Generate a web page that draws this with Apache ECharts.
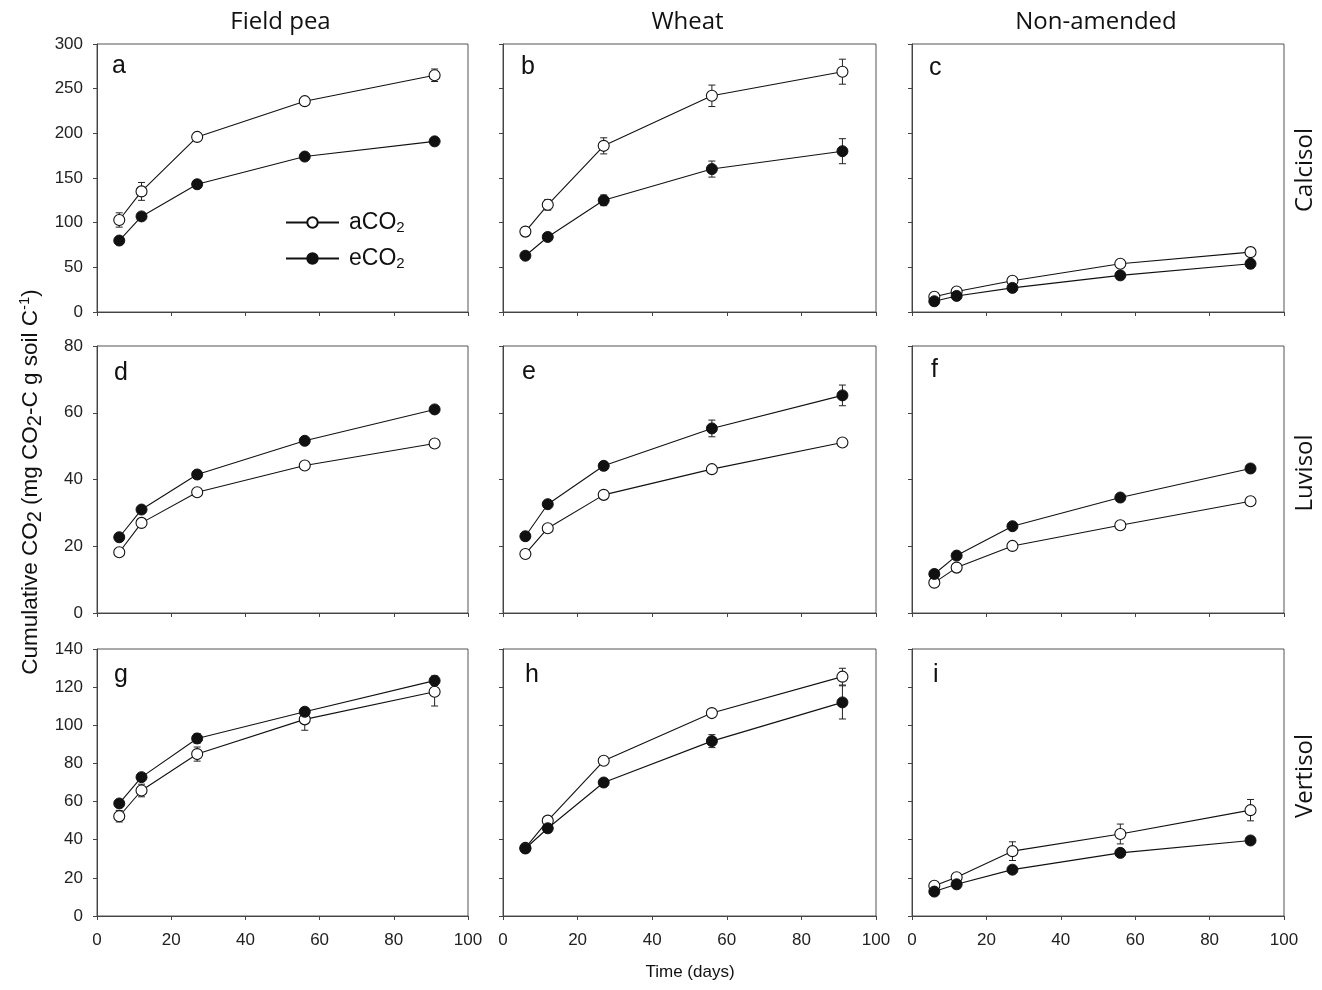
<!DOCTYPE html>
<html>
<head>
<meta charset="utf-8">
<title>Cumulative CO2</title>
<script src="https://cdn.jsdelivr.net/npm/echarts@6/dist/echarts.min.js"></script>
<style>
  html, body { margin: 0; padding: 0; background: #fff; }
  #main { width: 1322px; height: 990px; }
</style>
</head>
<body>
<div id="main"></div>
<script>
// sampling days (x values)
const days = [6, 12, 27, 56, 91];

// Calcisol
const calcPeaA = [103, 135, 196, 236, 265];
const calcPeaAErr = [8, 10, 2, 3, 7];
const calcPeaE = [80, 107, 143, 174, 191];
const calcPeaEErr = [2, 3, 3, 3, 3];
const calcWheatA = [90, 120, 186, 242, 269];
const calcWheatAErr = [2, 6, 9, 12, 14];
const calcWheatE = [63, 84, 125, 160, 180];
const calcWheatEErr = [2, 3, 6, 9, 14];
const calcNoneA = [17, 23, 35, 54, 67];
const calcNoneAErr = [1, 1, 2, 2, 3];
const calcNoneE = [12, 18, 27, 41, 54];
const calcNoneEErr = [1, 2, 4, 3, 5];

// Luvisol
const luvPeaA = [18.2, 27, 36.2, 44.2, 50.8];
const luvPeaAErr = [0.5, 0.5, 0.5, 0.5, 0.5];
const luvPeaE = [22.7, 31, 41.5, 51.6, 61];
const luvPeaEErr = [0.5, 0.5, 0.5, 0.5, 0.8];
const luvWheatA = [17.7, 25.4, 35.4, 43.1, 51.1];
const luvWheatAErr = [0.5, 0.5, 0.5, 1, 1.2];
const luvWheatE = [23, 32.6, 44.1, 55.3, 65.2];
const luvWheatEErr = [0.5, 0.5, 1.2, 2.5, 3.1];
const luvNoneA = [9.1, 13.6, 20.1, 26.3, 33.5];
const luvNoneAErr = [0.5, 0.5, 0.5, 0.5, 1.2];
const luvNoneE = [11.7, 17.2, 26, 34.6, 43.3];
const luvNoneEErr = [0.5, 0.5, 0.5, 0.5, 0.5];

// Vertisol
const vertPeaA = [52.3, 65.8, 84.9, 103.1, 117.6];
const vertPeaAErr = [3, 3.3, 3.7, 5.7, 7.5];
const vertPeaE = [59, 72.8, 93.1, 107.1, 123.4];
const vertPeaEErr = [1, 1.5, 2.5, 2, 2.5];
const vertWheatA = [35.7, 50, 81.4, 106.4, 125.5];
const vertWheatAErr = [0.5, 1, 1, 2, 4.4];
const vertWheatE = [35.4, 46, 70, 91.7, 112];
const vertWheatEErr = [0.5, 1, 1, 3.4, 8.7];
const vertNoneA = [15.9, 20.3, 34, 43, 55.5];
const vertNoneAErr = [1, 1, 4.9, 5.2, 5.6];
const vertNoneE = [12.8, 16.6, 24.3, 33.1, 39.6];
const vertNoneEErr = [0.5, 0.5, 1, 1, 1];

const colTitles = ['Field pea', 'Wheat', 'Non-amended'];
const rowTitles = ['Calcisol', 'Luvisol', 'Vertisol'];
const panelLetters = ['a', 'b', 'c', 'd', 'e', 'f', 'g', 'h', 'i'];
const rowMax = [300, 80, 140];
const rowStep = [50, 20, 20];
const xMax = 100, xStep = 20;

const panels = [
  [calcPeaA, calcPeaAErr, calcPeaE, calcPeaEErr],
  [calcWheatA, calcWheatAErr, calcWheatE, calcWheatEErr],
  [calcNoneA, calcNoneAErr, calcNoneE, calcNoneEErr],
  [luvPeaA, luvPeaAErr, luvPeaE, luvPeaEErr],
  [luvWheatA, luvWheatAErr, luvWheatE, luvWheatEErr],
  [luvNoneA, luvNoneAErr, luvNoneE, luvNoneEErr],
  [vertPeaA, vertPeaAErr, vertPeaE, vertPeaEErr],
  [vertWheatA, vertWheatAErr, vertWheatE, vertWheatEErr],
  [vertNoneA, vertNoneAErr, vertNoneE, vertNoneEErr]
];

// layout
const colLeft = [97, 503, 912];
const colWidth = [371, 373, 372];
const rowTop = [44, 346, 649];
const rowHeight = [268, 267, 267];
const letterPos = [[112, 74], [521, 75], [929, 76], [114, 381], [522, 380], [931, 378], [114, 683], [525, 683], [933, 683]];

const tickFont = "'Liberation Sans', Arial, sans-serif";
const titleFont = "'Open Sans', 'Noto Sans', sans-serif";
const ink = '#111';

var chart = echarts.init(document.getElementById('main'));

var grids = [], xAxes = [], yAxes = [], series = [], graphics = [];

function errorBars(i, vals, errs) {
  return {
    type: 'custom',
    xAxisIndex: i,
    yAxisIndex: i,
    z: 1,
    silent: true,
    encode: { x: 0, y: 1 },
    data: days.map((d, k) => [d, vals[k], errs[k]]),
    renderItem: function (params, api) {
      var x = api.value(0), y = api.value(1), e = api.value(2);
      var hi = api.coord([x, y + e]), lo = api.coord([x, y - e]);
      var w = 3.5;
      var st = { stroke: '#222', lineWidth: 1 };
      return {
        type: 'group',
        children: [
          { type: 'line', shape: { x1: hi[0], y1: hi[1], x2: lo[0], y2: lo[1] }, style: st },
          { type: 'line', shape: { x1: hi[0] - w, y1: hi[1], x2: hi[0] + w, y2: hi[1] }, style: st },
          { type: 'line', shape: { x1: lo[0] - w, y1: lo[1], x2: lo[0] + w, y2: lo[1] }, style: st }
        ]
      };
    }
  };
}

panels.forEach(function (p, i) {
  var r = Math.floor(i / 3), c = i % 3;
  grids.push({
    left: colLeft[c], top: rowTop[r], width: colWidth[c], height: rowHeight[r],
    show: true, borderColor: '#555', borderWidth: 1, backgroundColor: 'transparent'
  });
  xAxes.push({
    type: 'value', gridIndex: i, min: 0, max: xMax, interval: xStep,
    axisLine: { show: true, onZero: false, lineStyle: { color: '#444', width: 1 } },
    axisTick: { show: true, inside: false, length: 4, lineStyle: { color: '#444' } },
    axisLabel: { show: r === 2, fontSize: 17, color: '#222', margin: 16, fontFamily: tickFont },
    splitLine: { show: false }
  });
  yAxes.push({
    type: 'value', gridIndex: i, min: 0, max: rowMax[r], interval: rowStep[r],
    axisLine: { show: true, lineStyle: { color: '#444', width: 1 } },
    axisTick: { show: true, inside: false, length: 4, lineStyle: { color: '#444' } },
    axisLabel: { show: c === 0, fontSize: 17, color: '#222', margin: 14, fontFamily: tickFont },
    splitLine: { show: false }
  });
  series.push(errorBars(i, p[0], p[1]));
  series.push(errorBars(i, p[2], p[3]));
  series.push({
    name: 'aCO2', type: 'line', xAxisIndex: i, yAxisIndex: i, z: 3,
    data: days.map((d, k) => [d, p[0][k]]),
    symbol: 'circle', symbolSize: 11,
    lineStyle: { color: ink, width: 1.1 },
    itemStyle: { color: '#fff', borderColor: ink, borderWidth: 1.1 },
    emphasis: { disabled: true }
  });
  series.push({
    name: 'eCO2', type: 'line', xAxisIndex: i, yAxisIndex: i, z: 4,
    data: days.map((d, k) => [d, p[2][k]]),
    symbol: 'circle', symbolSize: 11,
    lineStyle: { color: ink, width: 1.1 },
    itemStyle: { color: ink, borderColor: ink, borderWidth: 1 },
    emphasis: { disabled: true }
  });
  graphics.push({
    type: 'text', x: letterPos[i][0], y: letterPos[i][1] + 5,
    style: { text: panelLetters[i], fill: ink, font: "25px 'Liberation Sans', Arial, sans-serif", textVerticalAlign: 'bottom' }
  });
});

// column titles
colTitles.forEach(function (t, c) {
  graphics.push({
    type: 'text', x: colLeft[c] + colWidth[c] / 2 - 2, y: 22,
    style: { text: t, fill: ink, font: "24px " + titleFont, textAlign: 'center', textVerticalAlign: 'middle' }
  });
});
// row titles
const rowTitleY = [170, 473, 776];
rowTitles.forEach(function (t, r) {
  graphics.push({
    type: 'text', x: 1305, y: rowTitleY[r], rotation: Math.PI / 2,
    style: { text: t, fill: ink, font: "24px " + titleFont, textAlign: 'center', textVerticalAlign: 'middle' }
  });
});
// x axis title
graphics.push({
  type: 'text', x: 690, y: 972,
  style: { text: 'Time (days)', fill: ink, font: "17px " + tickFont, textAlign: 'center', textVerticalAlign: 'middle' }
});
// y axis title
graphics.push({
  type: 'text', x: 31, y: 482, rotation: Math.PI / 2,
  style: {
    text: '{m|Cumulative CO}{s|2}{m| (mg CO}{s|2}{m|-C g soil C}{u|-1}{m|)}',
    fill: ink, textAlign: 'center', textVerticalAlign: 'middle',
    rich: {
      m: { fontSize: 22.5, lineHeight: 28, fontFamily: tickFont, fill: ink },
      s: { fontSize: 20, lineHeight: 22, verticalAlign: 'bottom', fontFamily: tickFont, fill: ink },
      u: { fontSize: 15, lineHeight: 15, verticalAlign: 'top', fontFamily: tickFont, fill: ink }
    }
  }
});

chart.setOption({
  animation: false,
  backgroundColor: '#fff',
  grid: grids,
  xAxis: xAxes,
  yAxis: yAxes,
  legend: {
    data: ['aCO2', 'eCO2'],
    orient: 'vertical',
    left: 285, top: 211,
    padding: 0,
    itemWidth: 53, itemHeight: 13, itemGap: 12,
    selectedMode: false,
    formatter: function (name) { return '{m|' + name.slice(0, 3) + '}{s|2}'; },
    textStyle: {
      padding: [0, 0, 0, 5],
      rich: {
        m: { fontSize: 23, lineHeight: 25, color: ink, fontFamily: tickFont },
        s: { fontSize: 15, lineHeight: 15, verticalAlign: 'bottom', color: ink, fontFamily: tickFont }
      }
    }
  },
  series: series,
  graphic: graphics
});
</script>
</body>
</html>
